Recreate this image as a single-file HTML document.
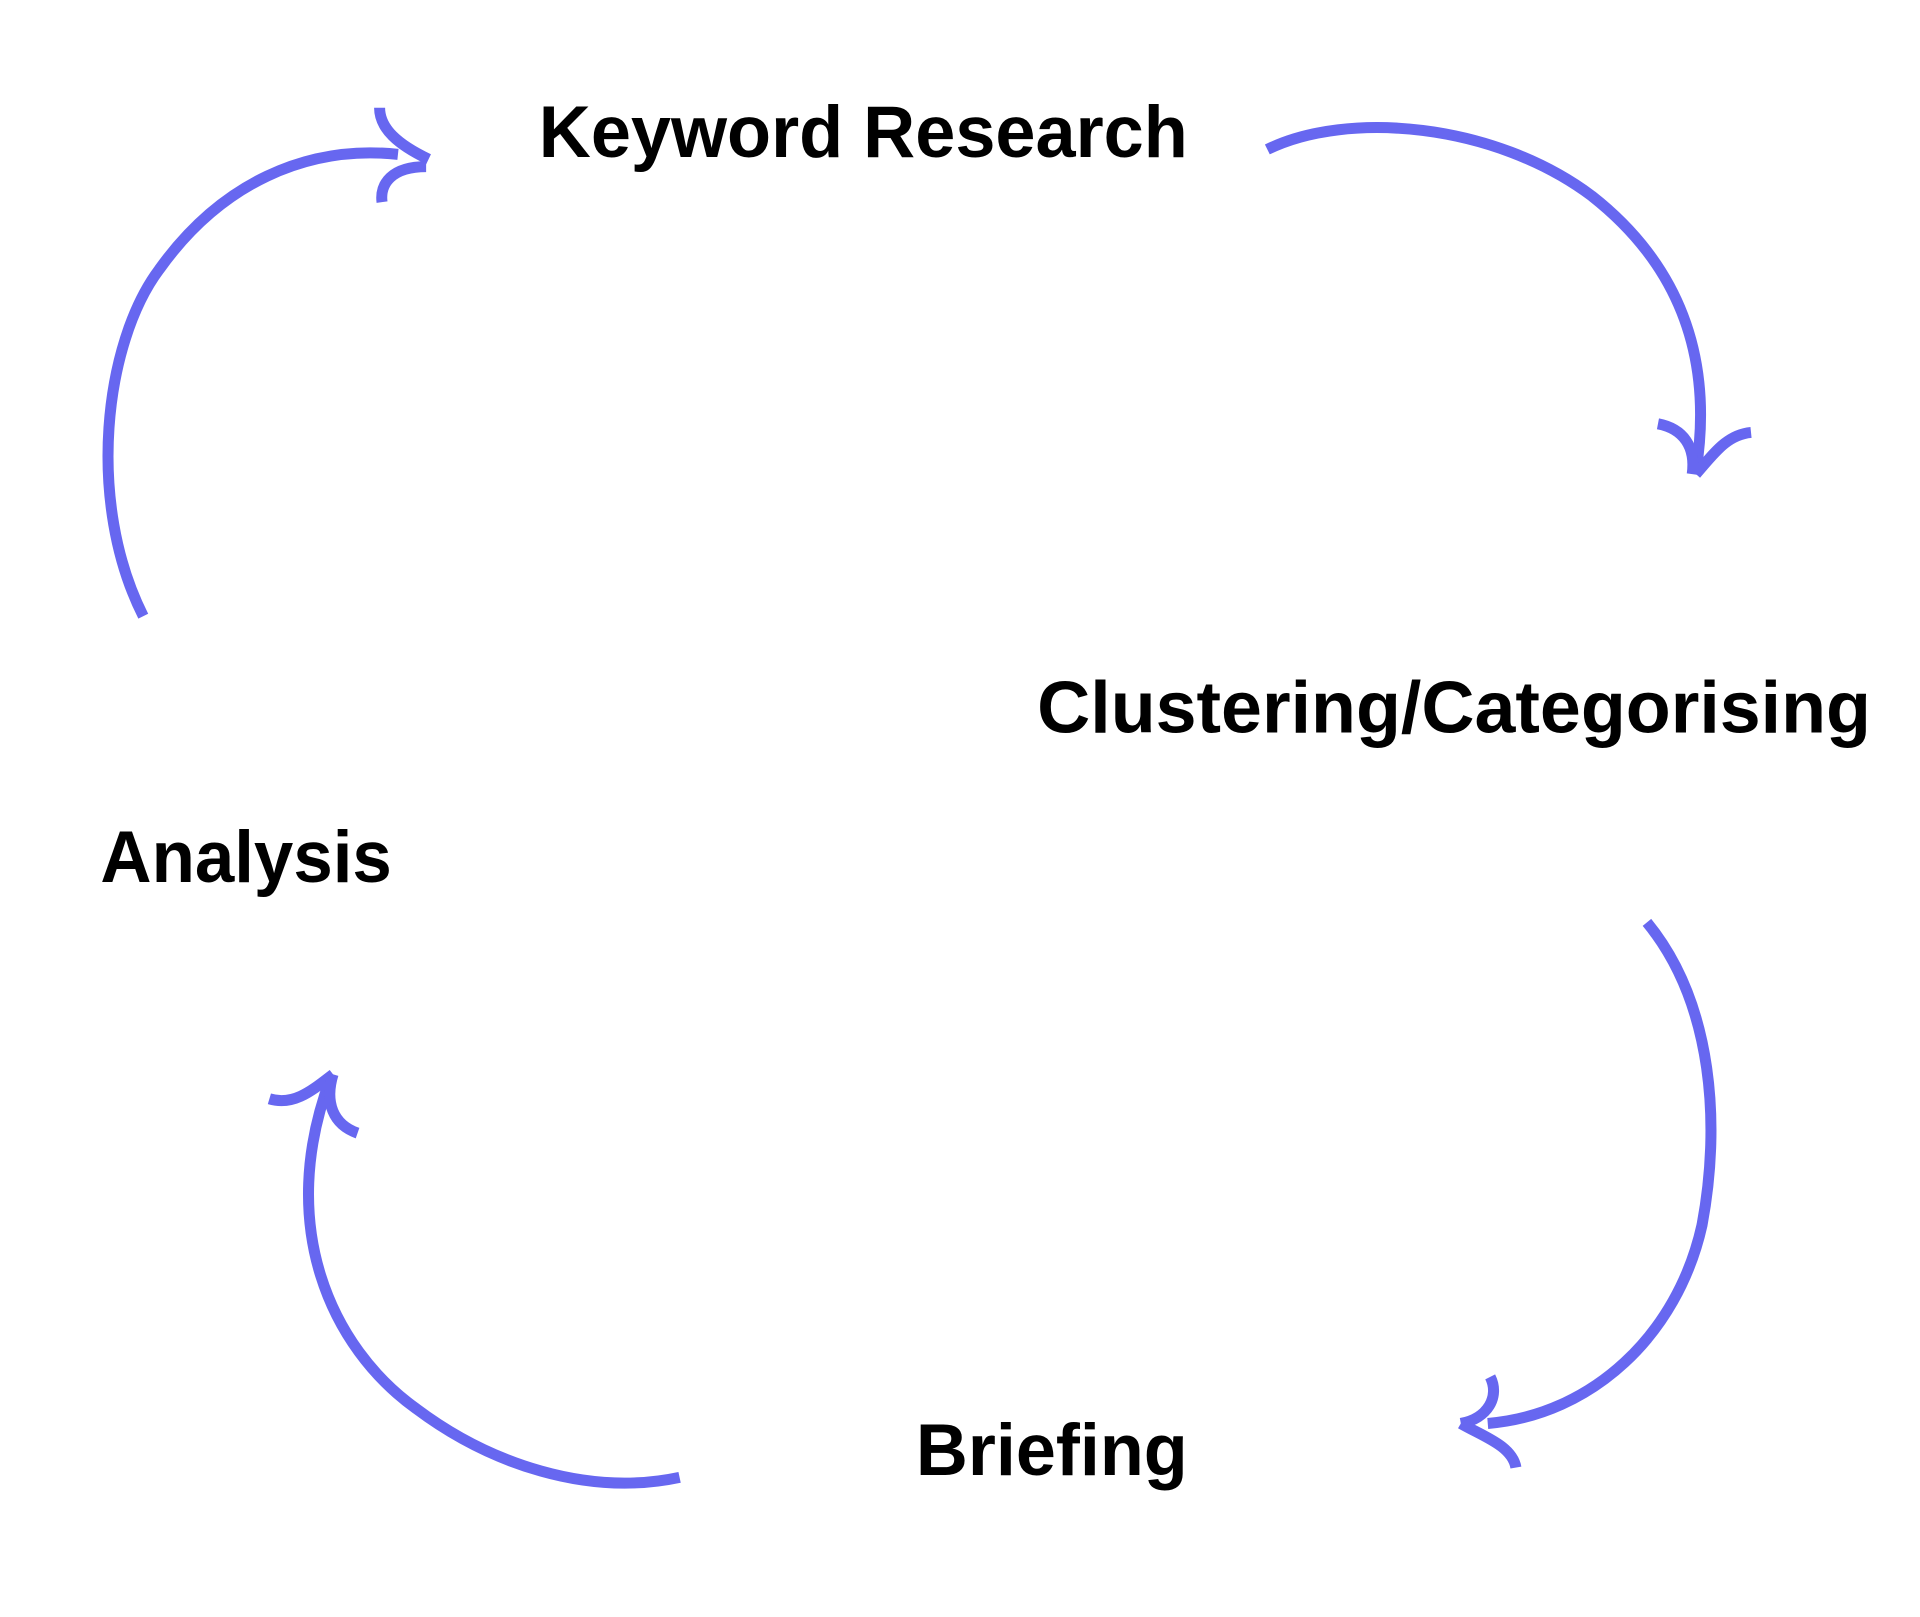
<!DOCTYPE html>
<html><head><meta charset="utf-8"><style>
html,body{margin:0;padding:0;background:#fff;}
svg{display:block;}
text{font-family:"Liberation Sans",sans-serif;font-weight:bold;fill:#000;}
</style></head><body>
<svg width="1920" height="1617" viewBox="0 0 1568 1320" preserveAspectRatio="none" xmlns="http://www.w3.org/2000/svg">
<rect width="1568" height="1320" fill="#fff"/>
<g fill="none" stroke="#6767F0" stroke-width="9">
<path d="M117,503 C70,410 85,280 130,220 C180,150 250,118 325,126"/>
<path d="M310,88 C310,105 325,118 350,130"/>
<path d="M312,165 C310,150 320,136 348,136"/>
<path d="M1035,122 C1100,90 1220,100 1300,160 C1370,215 1400,290 1385,385"/>
<path d="M1354,346 C1375,350 1385,365 1382,387"/>
<path d="M1430,353 C1410,355 1400,370 1385,387"/>
<path d="M1345,753 C1400,820 1405,920 1390,1000 C1370,1090 1300,1155 1215,1162"/>
<path d="M1217,1124 C1225,1140 1215,1158 1193,1162"/>
<path d="M1193,1162 C1210,1172 1235,1180 1238,1198"/>
<path d="M555,1206 C480,1222 400,1195 340,1150 C270,1100 225,1000 270,880"/>
<path d="M220,897 C240,903 255,890 272,877"/>
<path d="M272,877 C265,900 272,918 292,925"/>
</g>
<text x="440" y="128" font-size="60" textLength="530" lengthAdjust="spacingAndGlyphs">Keyword Research</text>
<text x="847" y="598" font-size="60" textLength="681" lengthAdjust="spacingAndGlyphs">Clustering/Categorising</text>
<text x="82" y="720" font-size="60" textLength="238" lengthAdjust="spacingAndGlyphs">Analysis</text>
<text x="748" y="1204" font-size="60" textLength="222" lengthAdjust="spacingAndGlyphs">Briefing</text>
</svg>
</body></html>
